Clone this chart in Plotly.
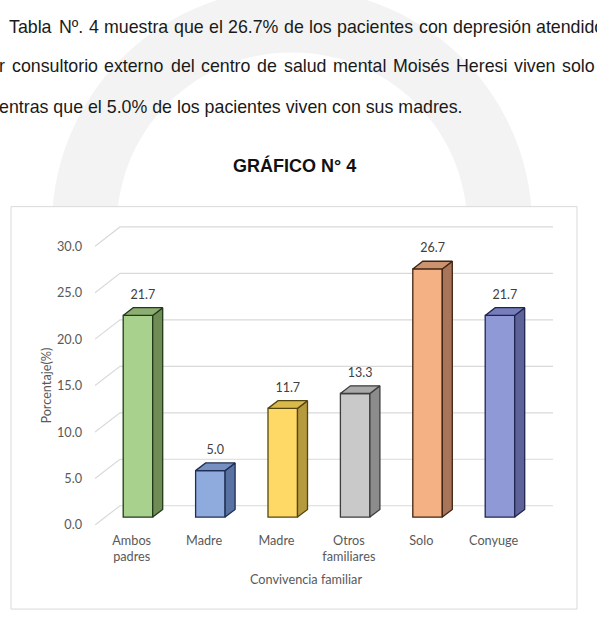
import math
import plotly.graph_objects as go

# ---------------- data ----------------
categories = ["Ambos<br>padres", "Madre", "Madre", "Otros<br>familiares", "Solo", "Conyuge"]
values = [21.7, 5.0, 11.7, 13.3, 26.7, 21.7]
value_labels = ["21.7", "5.0", "11.7", "13.3", "26.7", "21.7"]
y_ticks = [0, 5, 10, 15, 20, 25, 30]
y_tick_labels = ["0.0", "5.0", "10.0", "15.0", "20.0", "25.0", "30.0"]

front_colors = ["#A9D18E", "#8FAADC", "#FFD966", "#C9C9C9", "#F4B183", "#8F99D6"]
side_colors = ["#6F8C57", "#5872A3", "#B59A3E", "#8C8C8C", "#A8755A", "#5D6399"]
top_colors = ["#8DAE72", "#7690C2", "#D9B84C", "#A9A9A9", "#CC9370", "#767DBA"]
edge_colors = ["#22391A", "#1F2E52", "#54460F", "#3D3D3D", "#3F2412", "#20254F"]

# paragraph text (justified lines are laid out word by word)
para_line1_words = ["Tabla", "Nº.", "4", "muestra", "que", "el", "26.7%", "de",
                    "los", "pacientes", "con", "depresión", "atendido"]
para_line1_x = [7, 56.9, 86.6, 101.9, 171.6, 206.7, 225.9, 281.8,
                307, 335.1, 416.7, 450.8, 534.4]
para_line2_words = ["r", "consultorio", "externo", "del", "centro", "de", "salud",
                    "mental", "Moisés", "Heresi", "viven", "solo"]
para_line2_x = [-3, 9.6, 102.4, 168.5, 198.9, 255.1, 281.6, 330.8, 390.9, 454, 512.1, 560.3]
para_line3 = "entras que el 5.0% de los pacientes viven con sus madres."

# ---------------- geometry (pixels of the 597x621 page) ----------------
W, H = 597, 621
PX_PER_X = 72.4          # px per category step
PX_PER_Y = 9.4           # px per percent
X0_PX = 127.7            # front-plane px of category 0
LEFT_PX, RIGHT_PX = 95, 553
TOP_PX, BOT_PX = 222, 531
DX = 25 / PX_PER_X       # depth shift (x units) front->back wall
DY = 19.5 / PX_PER_Y     # depth shift (y units) front->back wall
D_FRONT = 0.41           # depth of bar front face
D_BAR = 0.40             # bar depth
HALF_W = 29.5 / 2 / PX_PER_X

xr = [(LEFT_PX - X0_PX) / PX_PER_X, (RIGHT_PX - X0_PX) / PX_PER_X]
yr = [0, (BOT_PX - TOP_PX) / PX_PER_Y]
xdom = [LEFT_PX / W, RIGHT_PX / W]
ydom = [1 - BOT_PX / H, 1 - TOP_PX / H]


def px(x):
    return x / W


def py(y):
    return 1 - y / H


CHART_FONT = "Lato, Calibri, Carlito, sans-serif"
TEXT_FONT = "Liberation Sans, Arial, sans-serif"
GRAY = "#595959"

fig = go.Figure()

# back-wall gridlines + left floor slants (main subplot, drawn below bars)
gx, gy = [], []
for v in y_ticks:
    gx += [xr[0], xr[0] + DX, xr[1], None]
    gy += [v, v + DY, v + DY, None]
fig.add_trace(go.Scatter(x=gx, y=gy, mode="lines",
                         line=dict(color="#D9D9D9", width=1.2),
                         hoverinfo="skip", showlegend=False))

# 3D bars (second subplot, drawn on top of grid)
sx, sy = D_BAR * DX, D_BAR * DY
base = D_FRONT * DY
for i, v in enumerate(values):
    xc = i + D_FRONT * DX
    xl, xrt = xc - HALF_W, xc + HALF_W
    fig.add_trace(go.Bar(x=[xc], y=[v], base=[base], width=2 * HALF_W,
                         marker=dict(color=front_colors[i],
                                     line=dict(color=edge_colors[i], width=1.3)),
                         xaxis="x2", yaxis="y2", hoverinfo="skip", showlegend=False))
    fig.add_trace(go.Scatter(x=[xrt, xrt + sx, xrt + sx, xrt, xrt],
                             y=[base, base + sy, base + v + sy, base + v, base],
                             mode="lines", fill="toself", fillcolor=side_colors[i],
                             line=dict(color=edge_colors[i], width=1.3),
                             xaxis="x2", yaxis="y2", hoverinfo="skip", showlegend=False))
    fig.add_trace(go.Scatter(x=[xl, xrt, xrt + sx, xl + sx, xl],
                             y=[base + v, base + v, base + v + sy, base + v + sy, base + v],
                             mode="lines", fill="toself", fillcolor=top_colors[i],
                             line=dict(color=edge_colors[i], width=1.3),
                             xaxis="x2", yaxis="y2", hoverinfo="skip", showlegend=False))

# value labels
lab_x = [i + D_FRONT * DX + sx / 2 for i in range(len(values))]
lab_y = [base + v + sy + 12 / PX_PER_Y for v in values]
fig.add_trace(go.Scatter(x=lab_x, y=lab_y, mode="text", text=value_labels,
                         textposition="middle center",
                         textfont=dict(family=CHART_FONT, size=12.5, color="#404040"),
                         xaxis="x2", yaxis="y2", hoverinfo="skip", showlegend=False))

# ---------------- decoration shapes ----------------
# faint watermark ring
cx, cy, R1, R2 = 292, 228, 240, 175
n = 120
outer = [(cx + R1 * math.cos(2 * math.pi * k / n), cy + R1 * math.sin(2 * math.pi * k / n)) for k in range(n)]
inner = [(cx + R2 * math.cos(-2 * math.pi * k / n), cy + R2 * math.sin(-2 * math.pi * k / n)) for k in range(n)]
path = "M " + " L ".join(f"{px(a):.5f},{py(b):.5f}" for a, b in outer) + " Z "
path += "M " + " L ".join(f"{px(a):.5f},{py(b):.5f}" for a, b in inner) + " Z"

shapes = [
    dict(type="path", path=path, xref="paper", yref="paper", layer="below",
         fillcolor="#F2F3F2", line=dict(width=0)),
    dict(type="rect", xref="paper", yref="paper", layer="below",
         x0=px(11), x1=px(577), y0=py(616), y1=py(209),
         fillcolor="white", line=dict(color="#D9D9D9", width=1)),
]

# ---------------- texts ----------------
para = dict(xref="paper", yref="paper", showarrow=False, yanchor="middle",
            xanchor="left", font=dict(family=TEXT_FONT, size=17.8, color="#1A1A1A"))
annotations = [dict(text=para_line3, x=px(-3), y=py(108.5), **para)]
for w_, x_ in zip(para_line1_words, para_line1_x):
    annotations.append(dict(text=w_, x=px(x_), y=py(27), **para))
for w_, x_ in zip(para_line2_words, para_line2_x):
    annotations.append(dict(text=w_, x=px(x_), y=py(67), **para))

annotations += [
    dict(text="<b>GRÁFICO N° 4</b>", x=px(294), y=py(167), xref="paper", yref="paper",
         showarrow=False, xanchor="center", yanchor="middle",
         font=dict(family=TEXT_FONT, size=18, color="#111111")),
    dict(text="Porcentaje(%)", x=px(46), y=py(390), xref="paper", yref="paper",
         showarrow=False, textangle=-90, xanchor="center", yanchor="middle",
         font=dict(family=CHART_FONT, size=12.7, color=GRAY)),
    dict(text="Convivencia familiar", x=px(306), y=py(586), xref="paper", yref="paper",
         showarrow=False, xanchor="center", yanchor="middle",
         font=dict(family=CHART_FONT, size=12.7, color=GRAY)),
]

axis_common = dict(showgrid=False, zeroline=False, showline=False, fixedrange=True)
fig.update_layout(
    width=W, height=H, autosize=False,
    margin=dict(l=0, r=0, t=0, b=0, pad=0),
    paper_bgcolor="white", plot_bgcolor="rgba(0,0,0,0)",
    showlegend=False, barmode="overlay",
    xaxis=dict(domain=xdom, range=xr, anchor="y",
               tickmode="array", tickvals=[i + 0.055 for i in range(len(categories))],
               ticktext=categories, ticks="", ticklabelstandoff=6,
               tickfont=dict(family=CHART_FONT, size=12.7, color=GRAY), **axis_common),
    yaxis=dict(domain=ydom, range=yr, anchor="x",
               tickmode="array", tickvals=y_ticks, ticktext=y_tick_labels,
               ticks="", ticklabelstandoff=12,
               tickfont=dict(family=CHART_FONT, size=12.7, color=GRAY), **axis_common),
    xaxis2=dict(domain=xdom, range=xr, anchor="y2", visible=False, **axis_common),
    yaxis2=dict(domain=ydom, range=yr, anchor="x2", visible=False, **axis_common),
    shapes=shapes,
    annotations=annotations,
)

fig.write_html("out.html")
